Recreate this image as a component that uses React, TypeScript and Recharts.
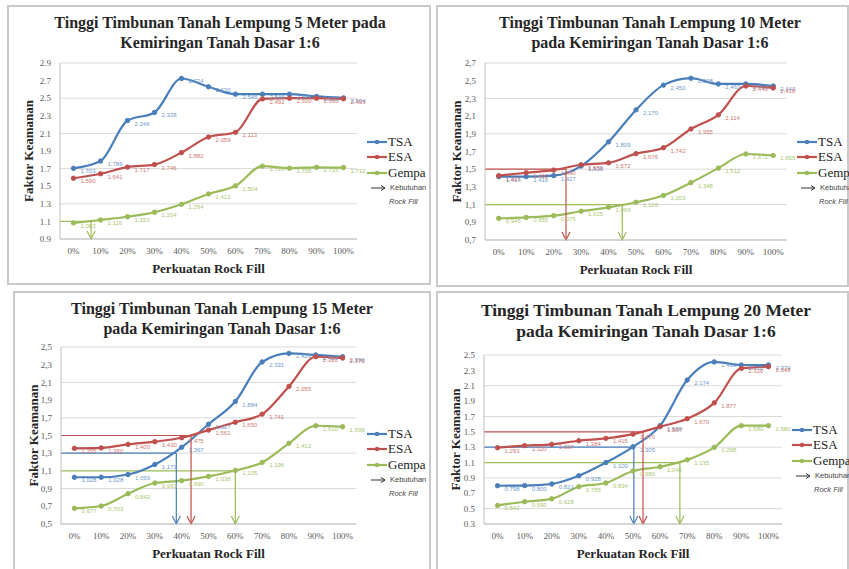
import React from "react";
import {
  LineChart,
  Line,
  XAxis,
  YAxis,
  CartesianGrid,
  ReferenceLine,
  LabelList,
} from "recharts";

// x categories: rock fill percentage
const pct = [0, 10, 20, 30, 40, 50, 60, 70, 80, 90, 100];

// 5 m
const tsa5 = [1.703, 1.786, 2.246, 2.338, 2.724, 2.63, 2.546, 2.546, 2.546, 2.52, 2.504];
const esa5 = [1.59, 1.641, 1.717, 1.746, 1.882, 2.059, 2.113, 2.492, 2.5, 2.5, 2.493];
const gempa5 = [1.083, 1.116, 1.153, 1.204, 1.294, 1.412, 1.504, 1.728, 1.705, 1.715, 1.712];
const yTicks5 = [0.9, 1.1, 1.3, 1.5, 1.7, 1.9, 2.1, 2.3, 2.5, 2.7, 2.9];

// 10 m
const tsa10 = [1.416, 1.416, 1.427, 1.535, 1.809, 2.17, 2.45, 2.528, 2.463, 2.463, 2.44];
const esa10 = [1.427, 1.46, 1.49, 1.55, 1.572, 1.676, 1.742, 1.955, 2.114, 2.44, 2.418];
const gempa10 = [0.945, 0.955, 0.975, 1.025, 1.069, 1.126, 1.203, 1.348, 1.512, 1.672, 1.655];
const yTicks10 = [0.7, 0.9, 1.1, 1.3, 1.5, 1.7, 1.9, 2.1, 2.3, 2.5, 2.7];

// 15 m
const tsa15 = [1.028, 1.028, 1.059, 1.173, 1.367, 1.627, 1.884, 2.331, 2.428, 2.41, 2.39];
const esa15 = [1.355, 1.36, 1.4, 1.43, 1.475, 1.561, 1.65, 1.741, 2.055, 2.39, 2.375];
const gempa15 = [0.677, 0.703, 0.842, 0.963, 0.99, 1.038, 1.105, 1.196, 1.412, 1.61, 1.599];
const yTicks15 = [0.5, 0.7, 0.9, 1.1, 1.3, 1.5, 1.7, 1.9, 2.1, 2.3, 2.5];

// 20 m
const tsa20 = [0.798, 0.8, 0.821, 0.928, 1.1, 1.305, 1.58, 2.174, 2.41, 2.37, 2.37];
const esa20 = [1.293, 1.32, 1.337, 1.384, 1.415, 1.47, 1.567, 1.67, 1.877, 2.326, 2.348];
const gempa20 = [0.542, 0.59, 0.628, 0.785, 0.834, 0.99, 1.045, 1.135, 1.298, 1.58, 1.58];
const yTicks20 = [0.3, 0.5, 0.7, 0.9, 1.1, 1.3, 1.5, 1.7, 1.9, 2.1, 2.3, 2.5];

// required rock fill (kebutuhan): required FS and the % where it is reached
const needs5 = [{ key: "gempa", fs: 1.1, x: 6.5 }];
const needs10 = [
  { key: "esa", fs: 1.5, x: 24.5 },
  { key: "gempa", fs: 1.1, x: 45 },
];
const needs15 = [
  { key: "tsa", fs: 1.3, x: 38 },
  { key: "esa", fs: 1.5, x: 43.5 },
  { key: "gempa", fs: 1.1, x: 60 },
];
const needs20 = [
  { key: "tsa", fs: 1.3, x: 50.3 },
  { key: "esa", fs: 1.5, x: 53.7 },
  { key: "gempa", fs: 1.1, x: 67.3 },
];

const COLORS: Record<string, string> = { tsa: "#4a7ebb", esa: "#c0504d", gempa: "#9bbb59" };
const LABEL_COLORS: Record<string, string> = { tsa: "#6f98c9", esa: "#cf7673", gempa: "#a9c66f" };
const SERIES = [
  { key: "tsa", name: "TSA" },
  { key: "esa", name: "ESA" },
  { key: "gempa", name: "Gempa" },
];

const SERIF = "'Liberation Serif', 'Times New Roman', serif";
const SANS = "'Liberation Sans', Arial, sans-serif";

const panels = [
  {
    title: ["Tinggi Timbunan Tanah Lempung 5 Meter pada", "Kemiringan Tanah Dasar 1:6"],
    tsa: tsa5, esa: esa5, gempa: gempa5, yTicks: yTicks5, sep: ".", needs: needs5,
    box: { x: 7, y: 5, w: 424, h: 280 },
    plot: { l: 60, r: 357, t: 63, b: 239 },
    titleY: 13, titleSize: 16, titleCx: 220, yTitleX: 28, legend: { x: 367, y: 142 },
  },
  {
    title: ["Tinggi Timbunan Tanah Lempung 10 Meter", "pada Kemiringan Tanah Dasar 1:6"],
    tsa: tsa10, esa: esa10, gempa: gempa10, yTicks: yTicks10, sep: ",", needs: needs10,
    box: { x: 436, y: 5, w: 413, h: 282 },
    plot: { l: 485, r: 787, t: 63, b: 240 },
    titleY: 13, titleSize: 16, titleCx: 650, yTitleX: 456, legend: { x: 797, y: 142 },
  },
  {
    title: ["Tinggi Timbunan Tanah Lempung 15 Meter", "pada Kemiringan Tanah Dasar 1:6"],
    tsa: tsa15, esa: esa15, gempa: gempa15, yTicks: yTicks15, sep: ",", needs: needs15,
    box: { x: 13, y: 291, w: 418, h: 282 },
    plot: { l: 61, r: 356, t: 347, b: 524 },
    titleY: 299, titleSize: 16, titleCx: 222, yTitleX: 33, legend: { x: 367, y: 434 },
  },
  {
    title: ["Tinggi Timbunan Tanah Lempung 20 Meter", "pada Kemiringan Tanah Dasar 1:6"],
    tsa: tsa20, esa: esa20, gempa: gempa20, yTicks: yTicks20, sep: ".", needs: needs20,
    box: { x: 436, y: 291, w: 413, h: 282 },
    plot: { l: 484, r: 782, t: 355, b: 524 },
    titleY: 300, titleSize: 17.5, titleCx: 646, yTitleX: 455, legend: { x: 792, y: 430 },
  },
];

const Y_AXIS_W = 30;
const X_AXIS_H = 36;

function fmt(v: number, digits: number, sep: string) {
  return v.toFixed(digits).replace(".", sep);
}

function arrowShape(color: string) {
  return (p: any) => (
    <g>
      <line x1={p.x1} y1={p.y1} x2={p.x2} y2={p.y2} stroke={color} strokeWidth={1.2} />
      <polyline
        points={`${p.x2 - 4},${p.y2 - 8} ${p.x2},${p.y2} ${p.x2 + 4},${p.y2 - 8}`}
        fill="none"
        stroke={color}
        strokeWidth={1.2}
      />
    </g>
  );
}

function LegendBox({ x, y }: { x: number; y: number }) {
  return (
    <div style={{ position: "absolute", left: x, top: y - 8, fontFamily: SERIF, color: "#222", whiteSpace: "nowrap" }}>
      {SERIES.map((s) => (
        <div key={s.key} style={{ display: "flex", alignItems: "center", height: 15.5 }}>
          <svg width={20} height={8} style={{ marginRight: 1 }}>
            <line x1={0} y1={4} x2={20} y2={4} stroke={COLORS[s.key]} strokeWidth={2.2} />
            <circle cx={10} cy={4} r={2.2} fill={COLORS[s.key]} />
          </svg>
          <span style={{ fontSize: 13 }}>{s.name}</span>
        </div>
      ))}
      <div style={{ display: "flex", alignItems: "center", height: 14, fontFamily: SANS, fontSize: 7.5, color: "#444" }}>
        <svg width={16} height={8} style={{ marginLeft: 4, marginRight: 3 }}>
          <line x1={0} y1={4} x2={14} y2={4} stroke="#333" strokeWidth={1} />
          <polyline points="10,1.5 14,4 10,6.5" fill="none" stroke="#333" strokeWidth={1} />
        </svg>
        <span>Kebutuhan</span>
      </div>
      <div style={{ height: 14, fontFamily: SANS, fontSize: 7.5, fontStyle: "italic", color: "#444", paddingLeft: 22, lineHeight: "14px" }}>
        Rock Fill
      </div>
    </div>
  );
}

function Panel({ cfg }: { cfg: (typeof panels)[number] }) {
  const { box, plot, yTicks, sep } = cfg;
  const data = pct.map((x, i) => ({ x, tsa: cfg.tsa[i], esa: cfg.esa[i], gempa: cfg.gempa[i] }));
  const yMin = yTicks[0];
  const yMax = yTicks[yTicks.length - 1];
  const margin = {
    left: plot.l - box.x - Y_AXIS_W,
    top: plot.t - box.y,
    right: box.x + box.w - plot.r,
    bottom: box.y + box.h - plot.b - X_AXIS_H,
  };
  const midY = (plot.t + plot.b) / 2 - box.y;
  const midX = (plot.l + plot.r) / 2 - box.x;

  return (
    <>
      <div
        style={{
          position: "absolute",
          left: box.x,
          top: box.y,
          width: box.w,
          height: box.h,
          boxSizing: "border-box",
          border: "2px solid #c9c9c9",
          background: "#fff",
        }}
      />
      <div
        style={{
          position: "absolute",
          left: cfg.titleCx - 210,
          top: cfg.titleY,
          width: 420,
          textAlign: "center",
          fontFamily: SERIF,
          fontWeight: "bold",
          fontSize: cfg.titleSize,
          lineHeight: cfg.titleSize > 17 ? "21px" : "20px",
          color: "#262626",
          whiteSpace: "nowrap",
        }}
      >
        {cfg.title[0]}
        <br />
        {cfg.title[1]}
      </div>
      <div style={{ position: "absolute", left: box.x, top: box.y }}>
        <LineChart width={box.w} height={box.h} data={data} margin={margin}>
          <CartesianGrid vertical={false} stroke="#d9d9d9" />
          <XAxis
            dataKey="x"
            type="number"
            domain={[-5, 105]}
            ticks={pct}
            tickFormatter={(v) => `${v}%`}
            height={X_AXIS_H}
            tickSize={0}
            tickMargin={9}
            axisLine={{ stroke: "#bfbfbf" }}
            tick={{ fontSize: 9, fill: "#595959", fontFamily: SERIF }}
            label={{
              content: () => (
                <text x={midX} y={plot.b + 29 - box.y} dy={4.5} textAnchor="middle" fontFamily={SERIF} fontWeight="bold" fontSize={13} fill="#262626">
                  Perkuatan Rock Fill
                </text>
              ),
            }}
          />
          <YAxis
            type="number"
            domain={[yMin, yMax]}
            ticks={yTicks}
            width={Y_AXIS_W}
            tickSize={0}
            tickMargin={9}
            tickFormatter={(v) => fmt(v, 1, sep)}
            axisLine={{ stroke: "#bfbfbf" }}
            tick={{ fontSize: 9, fill: "#595959", fontFamily: SERIF }}
            label={{
              content: () => (
                <text
                  x={cfg.yTitleX - box.x}
                  y={midY}
                  transform={`rotate(-90 ${cfg.yTitleX - box.x} ${midY})`}
                  dy={4.5}
                  textAnchor="middle"
                  fontFamily={SERIF}
                  fontWeight="bold"
                  fontSize={13}
                  fill="#262626"
                >
                  Faktor Keamanan
                </text>
              ),
            }}
          />
          {cfg.needs.map((n) => (
            <ReferenceLine
              key={`h-${n.key}`}
              segment={[
                { x: -5, y: n.fs },
                { x: n.x, y: n.fs },
              ]}
              stroke={COLORS[n.key]}
              strokeWidth={1.2}
            />
          ))}
          {SERIES.map((s) => (
            <Line
              key={s.key}
              dataKey={s.key}
              name={s.name}
              type="monotone"
              stroke={COLORS[s.key]}
              strokeWidth={2.2}
              dot={{ r: 2.2, fill: COLORS[s.key], stroke: COLORS[s.key], strokeWidth: 1 }}
              isAnimationActive={false}
            >
              <LabelList
                dataKey={s.key}
                content={(p: any) => (
                  <text x={p.x + 7} y={p.y + 5} fontSize={6} fill={LABEL_COLORS[s.key]} fontFamily={SANS}>
                    {fmt(Number(p.value), 3, sep)}
                  </text>
                )}
              />
            </Line>
          ))}
          {cfg.needs.map((n) => (
            <ReferenceLine
              key={`v-${n.key}`}
              segment={[
                { x: n.x, y: n.fs },
                { x: n.x, y: yMin },
              ]}
              shape={arrowShape(COLORS[n.key])}
            />
          ))}
        </LineChart>
      </div>
      <LegendBox x={cfg.legend.x} y={cfg.legend.y} />
    </>
  );
}

export default function App() {
  return (
    <div
      style={{
        position: "fixed",
        left: 0,
        top: 0,
        width: 849,
        height: 569,
        overflow: "hidden",
        background: "#fff",
      }}
    >
      {panels.map((cfg, i) => (
        <Panel key={i} cfg={cfg} />
      ))}
    </div>
  );
}
